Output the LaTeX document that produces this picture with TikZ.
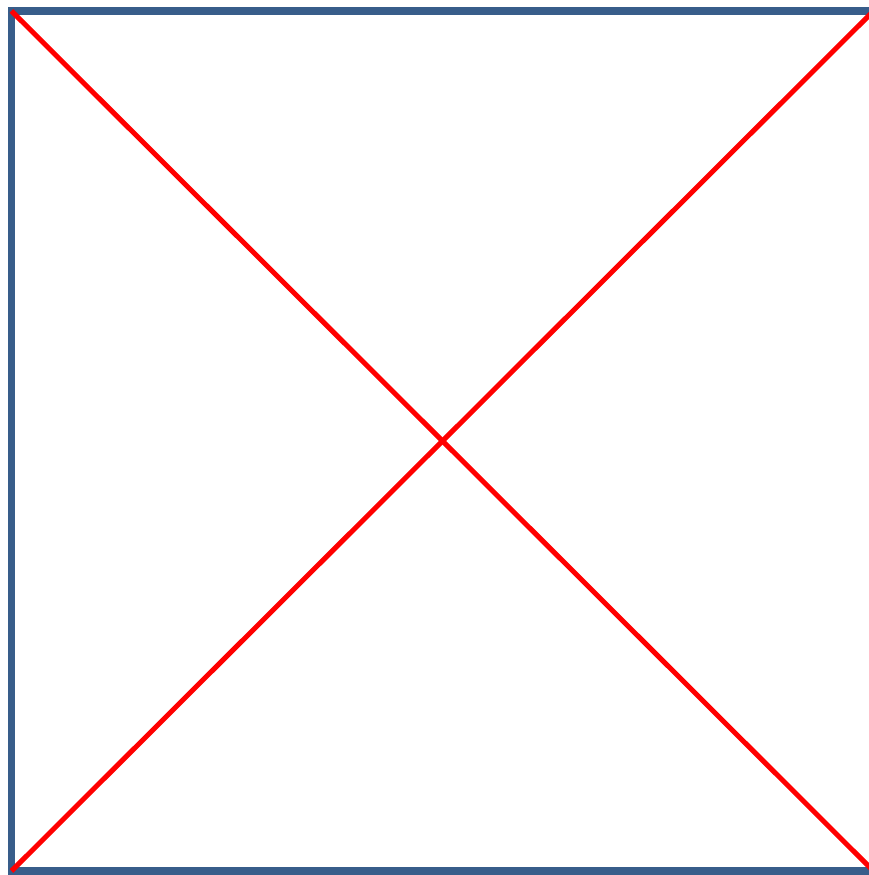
\documentclass[tikz,border=0pt]{standalone}
\usepackage{xcolor}
\usepackage{tikz}
\usetikzlibrary{calc}

\definecolor{frameblue}{RGB}{56,93,138}

\begin{document}
\begin{tikzpicture}[
    x=1pt, y=1pt,
    frame/.style={draw=frameblue, line width=7.5pt},
    cross/.style={draw=red, line width=5pt},
  ]
    % Canvas
    \useasboundingbox (0,0) rectangle (868,875);

    % Corners of the square
    \coordinate (tl) at (11.5,864);
    \coordinate (bl) at (11.5,4);
    \coordinate (tr) at (873.5,864);
    \coordinate (br) at (873.5,4);

    % Frame
    \draw[frame] (tl) -- (tr) -- (br) -- (bl) -- cycle;

    % Diagonals
    \draw[cross] (tl) -- (br);
    \draw[cross] (bl) -- (tr);

  \end{tikzpicture}
\end{document}
